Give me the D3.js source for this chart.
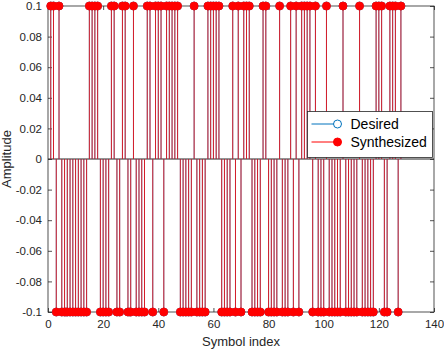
<!DOCTYPE html>
<html>
<head>
<meta charset="utf-8">
<script src="https://cdn.jsdelivr.net/npm/d3@7"></script>
<style>
  html, body { margin: 0; padding: 0; background: #fff; }
  svg { display: block; font-family: "Liberation Sans", Arial, sans-serif; }
</style>
</head>
<body>
<svg id="chart" width="444" height="352"></svg>
<script>
// symbols, index 1..128
const desired = [
  0.1, 0.1, -0.1, 0.1, -0.1, -0.1, -0.1, -0.1, -0.1, -0.1, -0.1, -0.1, -0.1, -0.1, 0.1, 0.1,
  0.1, 0.1, -0.1, -0.1, -0.1, -0.1, 0.1, 0.1, -0.1, -0.1, 0.1, 0.1, -0.1, -0.1, 0.1, -0.1,
  -0.1, -0.1, -0.1, 0.1, 0.1, -0.1, 0.1, 0.1, 0.1, -0.1, 0.1, 0.1, 0.1, 0.1, 0.1, -0.1,
  -0.1, -0.1, -0.1, -0.1, 0.1, -0.1, -0.1, -0.1, -0.1, 0.1, 0.1, 0.1, 0.1, 0.1, -0.1, -0.1,
  -0.1, -0.1, 0.1, -0.1, 0.1, -0.1, 0.1, 0.1, 0.1, -0.1, -0.1, -0.1, -0.1, 0.1, 0.1, -0.1,
  -0.1, -0.1, -0.1, 0.1, -0.1, -0.1, -0.1, 0.1, -0.1, 0.1, -0.1, 0.1, 0.1, 0.1, 0.1, -0.1,
  0.1, -0.1, -0.1, -0.1, 0.1, -0.1, -0.1, -0.1, -0.1, -0.1, 0.1, -0.1, -0.1, -0.1, -0.1, -0.1,
  0.1, -0.1, -0.1, -0.1, -0.1, -0.1, 0.1, 0.1, 0.1, -0.1, -0.1, 0.1, 0.1, 0.1, -0.1, 0.1
]
// the synthesized symbols match the desired ones
const synthesized = desired.slice()

const xTicks = [0, 20, 40, 60, 80, 100, 120, 140]
const yTicks = [-0.1, -0.08, -0.06, -0.04, -0.02, 0, 0.02, 0.04, 0.06, 0.08, 0.1]
const seriesNames = ['Desired', 'Synthesized']

const axisColor = '#262626'
const blue = '#0072bd'
const red = '#ff0000'

const margin = { top: 6, right: 10, bottom: 40, left: 48 }
const width = 444
const height = 352
const plotW = width - margin.left - margin.right
const plotH = height - margin.top - margin.bottom

const svg = d3.select('#chart')
const g = svg.append('g').attr('transform', `translate(${margin.left},${margin.top})`)

const x = d3.scaleLinear().domain([0, 140]).range([0, plotW])
const y = d3.scaleLinear().domain([-0.1, 0.1]).range([plotH, 0])

const fmtY = (d) => (Math.abs(d) < 1e-9 ? '0' : String(+d.toFixed(2)))

function styleAxis(sel) {
  sel.select('.domain').remove()
  sel.selectAll('line').attr('stroke', axisColor).attr('stroke-width', 0.8)
  sel.selectAll('text').attr('fill', axisColor).style('font-size', '11.5px')
}

g.append('g')
  .attr('transform', `translate(0,${plotH})`)
  .call(d3.axisBottom(x).tickValues(xTicks).tickSizeInner(-4).tickSizeOuter(0).tickPadding(8))
  .call(styleAxis)
g.append('g')
  .call(d3.axisTop(x).tickValues(xTicks).tickSizeInner(-4).tickSizeOuter(0).tickFormat(''))
  .call(styleAxis)
g.append('g')
  .call(d3.axisLeft(y).tickValues(yTicks).tickSizeInner(-4).tickSizeOuter(0).tickPadding(6).tickFormat(fmtY))
  .call(styleAxis)
g.append('g')
  .attr('transform', `translate(${plotW},0)`)
  .call(d3.axisRight(y).tickValues(yTicks).tickSizeInner(-4).tickSizeOuter(0).tickFormat(''))
  .call(styleAxis)

// box
g.append('rect')
  .attr('x', 0).attr('y', 0).attr('width', plotW).attr('height', plotH)
  .attr('fill', 'none').attr('stroke', axisColor).attr('stroke-width', 0.8)

// stem baseline
g.append('line')
  .attr('x1', 0).attr('x2', plotW).attr('y1', y(0)).attr('y2', y(0))
  .attr('stroke', axisColor).attr('stroke-width', 1)

function drawStems(values, color, filled) {
  const layer = g.append('g')
  layer.selectAll('line')
    .data(values)
    .join('line')
    .attr('x1', (d, i) => x(i + 1))
    .attr('x2', (d, i) => x(i + 1))
    .attr('y1', y(0))
    .attr('y2', (d) => y(d))
    .attr('stroke', color)
    .attr('stroke-width', 0.8)
  layer.selectAll('circle')
    .data(values)
    .join('circle')
    .attr('cx', (d, i) => x(i + 1))
    .attr('cy', (d) => y(d))
    .attr('r', 4)
    .attr('fill', filled ? color : 'none')
    .attr('stroke', color)
    .attr('stroke-width', 0.8)
}

drawStems(desired, blue, false)
drawStems(synthesized, red, true)

// axis labels
svg.append('text')
  .attr('x', margin.left + plotW / 2)
  .attr('y', 346)
  .attr('text-anchor', 'middle')
  .attr('fill', axisColor)
  .style('font-size', '13px')
  .text('Symbol index')
svg.append('text')
  .attr('transform', `translate(11,${margin.top + plotH / 2}) rotate(-90)`)
  .attr('text-anchor', 'middle')
  .attr('fill', axisColor)
  .style('font-size', '13px')
  .text('Amplitude')

// legend
const legend = svg.append('g').attr('transform', 'translate(307.5,111.5)')
legend.append('rect')
  .attr('width', 125).attr('height', 46)
  .attr('fill', '#fff').attr('stroke', axisColor).attr('stroke-width', 0.8)

const legendRows = legend.selectAll('g.row')
  .data(seriesNames)
  .join('g')
  .attr('class', 'row')
  .attr('transform', (d, i) => `translate(0,${12.5 + i * 18})`)

legendRows.append('line')
  .attr('x1', 4).attr('x2', 30).attr('y1', 0).attr('y2', 0)
  .attr('stroke', (d, i) => (i === 0 ? blue : red))
  .attr('stroke-width', 1)
legendRows.append('circle')
  .attr('cx', 30).attr('cy', 0).attr('r', 4)
  .attr('fill', (d, i) => (i === 0 ? '#fff' : red))
  .attr('stroke', (d, i) => (i === 0 ? blue : red))
  .attr('stroke-width', 1)
legendRows.append('text')
  .attr('x', 43).attr('y', 5)
  .attr('fill', '#000')
  .style('font-size', '14px')
  .text((d) => d)
</script>
</body>
</html>
